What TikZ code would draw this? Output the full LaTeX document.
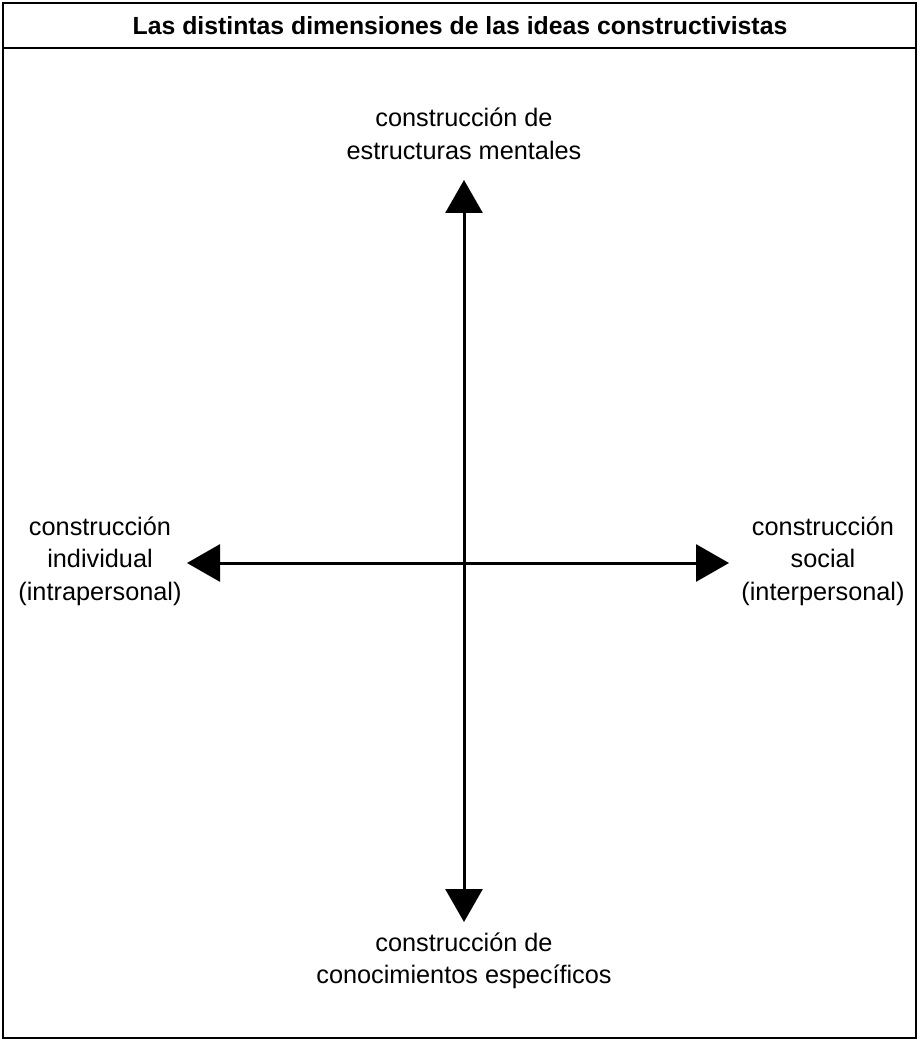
\documentclass[tikz,border=0pt]{standalone}
\usepackage{fontspec}
\setmainfont{Liberation Sans}
\usepackage{tikz}
\usetikzlibrary{positioning, arrows.meta}

\begin{document}
\begin{tikzpicture}
            [
            x=1pt, y=-1pt,
            dimension/.style={align=center,inner sep=0pt,font=\fontsize{25.3}{32.5}\selectfont},
            axis/.style={line width=3pt,{Triangle[width=37pt,length=33pt]}-{Triangle[width=37pt,length=33pt]}}
            ]
        \useasboundingbox (0,0) rectangle (920,1040);
        % frame and title band
        \draw[line width=2pt] (3,3) rectangle (916,1038);
        \draw[line width=2pt] (3,48) -- (916,48);
        \node[font=\fontsize{24.8}{30}\selectfont\bfseries] (title) at (460,26) {Las distintas dimensiones de las ideas constructivistas};
        % ends of the two axes
        \coordinate (top) at (464,180);
        \coordinate (bottom) at (464,922);
        \coordinate (left) at (187,563);
        \coordinate (right) at (729,563);
        \draw[axis] (bottom) -- (top);
        \draw[axis] (left) -- (right);
        % the four dimensions
        \node[dimension] (mental) at (464,134) {construcción de\\estructuras mentales};
        \node[dimension] (specific) at (464,961) {construcción de\\conocimientos específicos};
        \node[dimension] (individual) at (100,561) {construcción\\individual\\(intrapersonal)};
        \node[dimension] (social) at (823,561) {construcción\\social\\(interpersonal)};
        \end{tikzpicture}
\end{document}
